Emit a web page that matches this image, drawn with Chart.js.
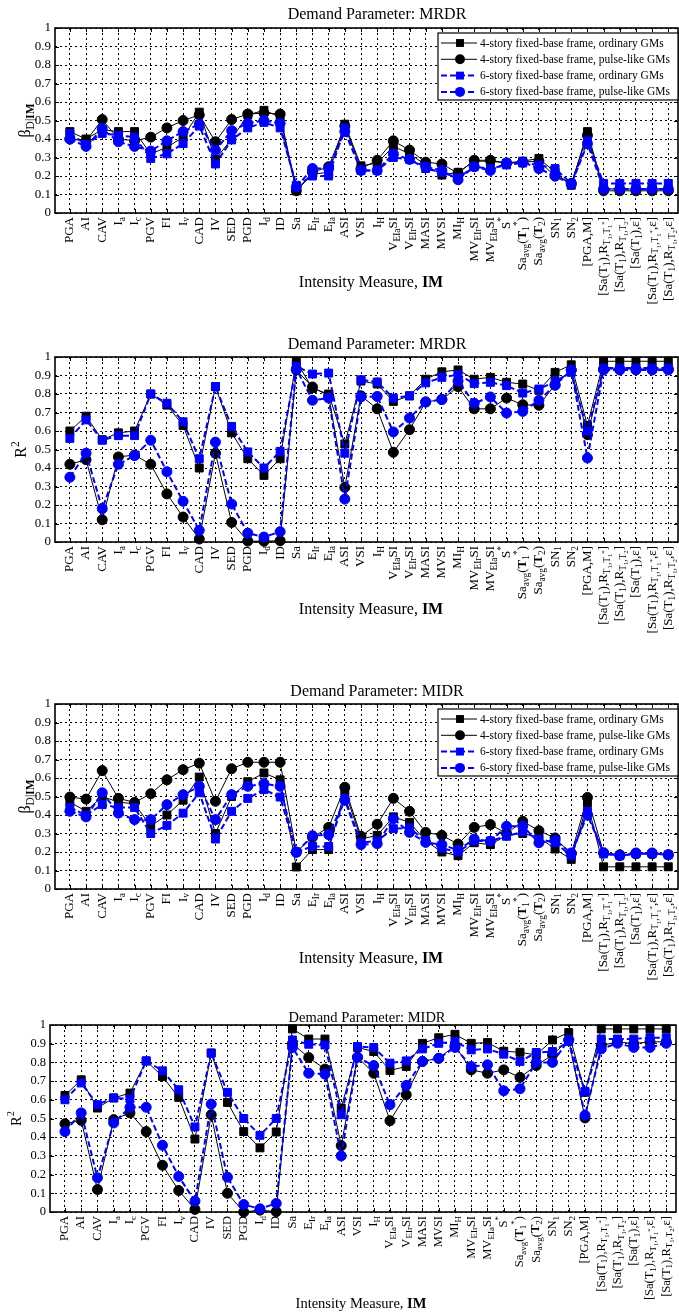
<!DOCTYPE html>
<html lang="en">
<head>
<meta charset="UTF-8">
<title>Dispersion and R2 of intensity measures</title>
<script src="https://cdn.jsdelivr.net/npm/chart.js"></script>
<style>
  body { margin: 0; background: #fff; }
  #wrap { position: relative; width: 679px; height: 1314px; background: #fff; overflow: hidden; }
  canvas { position: absolute; left: 0; }
</style>
</head>
<body>
<div id="wrap">
  <canvas id="c1"></canvas>
  <canvas id="c2"></canvas>
  <canvas id="c3"></canvas>
  <canvas id="c4"></canvas>
</div>
<script>
// categories (intensity measures), _{} = subscript, ^{} = superscript, #{} = bold
const categories = ['PGA', 'AI', 'CAV', 'I_{a}', 'I_{c}', 'PGV', 'FI', 'I_{v}', 'CAD', 'IV', 'SED', 'PGD', 'I_{d}', 'ID', 'Sa',
  'E_{Ir}', 'E_{Ia}', 'ASI', 'VSI', 'I_{H}', 'V_{EIa}SI', 'V_{EIr}SI', 'MASI', 'MVSI', 'MI_{H}', 'MV_{EIr}SI', 'MV_{EIa}SI',
  'S^{*}', 'Sa_{avg}(#{T}_{1}^{*})', 'Sa_{avg}(#{T}_{2})', 'SN_{1}', 'SN_{2}', '[PGA,M]',
  '[Sa(T_{1}),R_{T_{1},T_{1}^{*}}]', '[Sa(T_{1}),R_{T_{1},T_{2}}]', '[Sa(T_{1}),ε]',
  '[Sa(T_{1}),R_{T_{1},T_{1}^{*}},ε]', '[Sa(T_{1}),R_{T_{1},T_{2}},ε]'];

const seriesLabels = ['4-story fixed-base frame, ordinary GMs', '4-story fixed-base frame, pulse-like GMs',
  '6-story fixed-base frame, ordinary GMs', '6-story fixed-base frame, pulse-like GMs'];

const yTicks = [0, 0.1, 0.2, 0.3, 0.4, 0.5, 0.6, 0.7, 0.8, 0.9, 1];

// Demand parameter MRDR, dispersion beta_D|IM
const betaMRDR_4ord = [0.44, 0.40, 0.45, 0.44, 0.44, 0.32, 0.355, 0.41, 0.545, 0.29, 0.40, 0.53, 0.555, 0.52, 0.12, 0.21, 0.22, 0.48, 0.255, 0.27, 0.36, 0.32, 0.26, 0.205, 0.22, 0.28, 0.28, 0.27, 0.28, 0.295, 0.22, 0.15, 0.44, 0.13, 0.13, 0.13, 0.13, 0.13];
const betaMRDR_4pulse = [0.40, 0.39, 0.505, 0.40, 0.39, 0.41, 0.46, 0.50, 0.53, 0.385, 0.505, 0.535, 0.54, 0.535, 0.12, 0.22, 0.25, 0.47, 0.24, 0.285, 0.39, 0.34, 0.275, 0.265, 0.215, 0.285, 0.285, 0.27, 0.275, 0.28, 0.20, 0.16, 0.42, 0.12, 0.12, 0.12, 0.12, 0.12];
const betaMRDR_6ord = [0.43, 0.37, 0.43, 0.42, 0.41, 0.295, 0.32, 0.375, 0.47, 0.265, 0.395, 0.46, 0.49, 0.46, 0.15, 0.20, 0.20, 0.46, 0.23, 0.23, 0.30, 0.29, 0.24, 0.22, 0.19, 0.25, 0.24, 0.26, 0.27, 0.26, 0.24, 0.16, 0.39, 0.16, 0.16, 0.16, 0.16, 0.16];
const betaMRDR_6pulse = [0.40, 0.36, 0.455, 0.385, 0.36, 0.335, 0.39, 0.44, 0.48, 0.34, 0.445, 0.485, 0.50, 0.485, 0.14, 0.24, 0.24, 0.44, 0.23, 0.23, 0.32, 0.29, 0.25, 0.23, 0.18, 0.25, 0.23, 0.27, 0.275, 0.24, 0.20, 0.155, 0.375, 0.13, 0.13, 0.13, 0.13, 0.13];

// Demand parameter MRDR, R^2
const r2MRDR_4ord = [0.60, 0.68, 0.553, 0.59, 0.60, 0.80, 0.74, 0.63, 0.40, 0.84, 0.59, 0.45, 0.36, 0.45, 0.977, 0.83, 0.80, 0.53, 0.87, 0.854, 0.76, 0.79, 0.88, 0.92, 0.93, 0.88, 0.89, 0.863, 0.854, 0.82, 0.917, 0.958, 0.63, 0.977, 0.977, 0.977, 0.977, 0.977];
const r2MRDR_4pulse = [0.42, 0.445, 0.12, 0.46, 0.47, 0.42, 0.26, 0.135, 0.016, 0.48, 0.106, 0.005, 0.004, 0.007, 0.93, 0.838, 0.79, 0.295, 0.79, 0.72, 0.485, 0.607, 0.757, 0.77, 0.84, 0.72, 0.72, 0.778, 0.742, 0.739, 0.85, 0.93, 0.58, 0.935, 0.935, 0.935, 0.935, 0.935];
const r2MRDR_6ord = [0.56, 0.66, 0.55, 0.575, 0.575, 0.80, 0.75, 0.65, 0.45, 0.84, 0.625, 0.487, 0.40, 0.49, 0.95, 0.908, 0.913, 0.48, 0.877, 0.865, 0.778, 0.79, 0.86, 0.89, 0.905, 0.856, 0.863, 0.845, 0.805, 0.827, 0.868, 0.917, 0.60, 0.94, 0.94, 0.94, 0.94, 0.94];
const r2MRDR_6pulse = [0.35, 0.48, 0.18, 0.42, 0.467, 0.55, 0.38, 0.22, 0.063, 0.54, 0.205, 0.048, 0.027, 0.056, 0.935, 0.766, 0.778, 0.232, 0.784, 0.787, 0.595, 0.67, 0.757, 0.77, 0.87, 0.75, 0.784, 0.697, 0.706, 0.766, 0.847, 0.93, 0.454, 0.93, 0.93, 0.93, 0.93, 0.93];

// Demand parameter MIDR, dispersion beta_D|IM
const betaMIDR_4ord = [0.47, 0.42, 0.50, 0.47, 0.46, 0.34, 0.40, 0.48, 0.605, 0.30, 0.50, 0.58, 0.627, 0.59, 0.119, 0.213, 0.213, 0.53, 0.27, 0.29, 0.39, 0.36, 0.26, 0.20, 0.18, 0.25, 0.24, 0.29, 0.30, 0.28, 0.216, 0.16, 0.465, 0.12, 0.12, 0.12, 0.12, 0.12];
const betaMIDR_4pulse = [0.497, 0.486, 0.64, 0.49, 0.468, 0.515, 0.59, 0.645, 0.68, 0.474, 0.65, 0.685, 0.685, 0.685, 0.20, 0.28, 0.333, 0.55, 0.285, 0.35, 0.49, 0.42, 0.306, 0.29, 0.243, 0.333, 0.348, 0.30, 0.366, 0.315, 0.276, 0.19, 0.495, 0.195, 0.185, 0.19, 0.19, 0.185];
const betaMIDR_6ord = [0.44, 0.40, 0.456, 0.44, 0.44, 0.30, 0.344, 0.41, 0.52, 0.27, 0.42, 0.49, 0.537, 0.497, 0.20, 0.23, 0.23, 0.49, 0.25, 0.26, 0.326, 0.33, 0.26, 0.22, 0.20, 0.26, 0.26, 0.285, 0.31, 0.27, 0.25, 0.18, 0.42, 0.19, 0.18, 0.19, 0.19, 0.185];
const betaMIDR_6pulse = [0.42, 0.39, 0.52, 0.41, 0.375, 0.375, 0.456, 0.51, 0.555, 0.375, 0.51, 0.555, 0.57, 0.555, 0.198, 0.288, 0.294, 0.48, 0.24, 0.245, 0.38, 0.306, 0.252, 0.24, 0.21, 0.27, 0.258, 0.339, 0.34, 0.25, 0.263, 0.195, 0.40, 0.195, 0.18, 0.195, 0.195, 0.185];

// Demand parameter MIDR, R^2
const r2MIDR_4ord = [0.623, 0.707, 0.556, 0.61, 0.636, 0.808, 0.725, 0.613, 0.39, 0.85, 0.586, 0.43, 0.343, 0.428, 0.979, 0.925, 0.925, 0.556, 0.88, 0.858, 0.757, 0.778, 0.902, 0.932, 0.95, 0.902, 0.906, 0.86, 0.854, 0.84, 0.92, 0.96, 0.64, 0.979, 0.979, 0.979, 0.979, 0.979];
const r2MIDR_4pulse = [0.472, 0.49, 0.12, 0.494, 0.53, 0.43, 0.25, 0.115, 0.014, 0.52, 0.10, 0.0, 0.01, 0.002, 0.90, 0.826, 0.764, 0.355, 0.828, 0.742, 0.488, 0.627, 0.805, 0.822, 0.89, 0.76, 0.742, 0.76, 0.72, 0.783, 0.84, 0.92, 0.503, 0.89, 0.91, 0.90, 0.91, 0.91];
const r2MIDR_6ord = [0.60, 0.69, 0.574, 0.61, 0.605, 0.808, 0.755, 0.654, 0.455, 0.85, 0.64, 0.50, 0.41, 0.50, 0.92, 0.897, 0.893, 0.52, 0.885, 0.88, 0.796, 0.808, 0.872, 0.902, 0.911, 0.867, 0.872, 0.844, 0.805, 0.853, 0.858, 0.911, 0.645, 0.925, 0.925, 0.925, 0.932, 0.932];
const r2MIDR_6pulse = [0.43, 0.53, 0.183, 0.476, 0.56, 0.56, 0.357, 0.19, 0.058, 0.577, 0.186, 0.04, 0.017, 0.046, 0.88, 0.742, 0.737, 0.30, 0.828, 0.783, 0.574, 0.677, 0.805, 0.822, 0.88, 0.778, 0.787, 0.648, 0.659, 0.80, 0.80, 0.92, 0.517, 0.872, 0.902, 0.88, 0.88, 0.902];

const SERIF = '"Liberation Serif", "Times New Roman", serif';
const styles = [
  { color: '#000000', dash: [], width: 1, point: 'rect', r: 5.6 },
  { color: '#000000', dash: [], width: 1, point: 'circle', r: 5 },
  { color: '#0000ff', dash: [6, 3], width: 2, point: 'rect', r: 5.6 },
  { color: '#0000ff', dash: [6, 3], width: 2, point: 'circle', r: 5 }
];

// simple rich text: _{..} sub, ^{..} sup, #{..} bold (nestable)
function parseRich(s) {
  const out = [], mode = [];
  let buf = '';
  const flush = () => { if (buf) { out.push({ t: buf, mode: mode.slice() }); buf = ''; } };
  for (let i = 0; i < s.length; i++) {
    const c = s[i];
    if ((c === '_' || c === '^' || c === '#') && s[i + 1] === '{') { flush(); mode.push(c); i++; }
    else if (c === '}' && mode.length) { flush(); mode.pop(); }
    else buf += c;
  }
  flush();
  return out;
}

function drawRich(ctx, s, x, y, size, align) {
  let total = 0;
  const items = parseRich(s).map(sg => {
    let sz = size, dy = 0;
    sg.mode.forEach(m => {
      if (m === '_') { dy += sz * 0.3; sz *= 0.72; }
      if (m === '^') { dy -= sz * 0.4; sz *= 0.72; }
    });
    const font = (sg.mode.includes('#') ? 'bold ' : '') + sz.toFixed(1) + 'px ' + SERIF;
    ctx.font = font;
    const w = ctx.measureText(sg.t).width;
    total += w;
    return { t: sg.t, font: font, dy: dy, w: w };
  });
  let cx = align === 'right' ? x - total : align === 'center' ? x - total / 2 : x;
  ctx.textAlign = 'left';
  items.forEach(it => { ctx.font = it.font; ctx.fillText(it.t, cx, y + it.dy); cx += it.w; });
}

const panels = [
  { id: 'c1', top: 0, height: 320, plotTop: 28, plotBottom: 213, left: 55, right: 678,
    title: 'Demand Parameter: MRDR', titleX: 377, titleY: 19, titleSize: 16,
    yTitle: 'β_{D|#{IM}}', yTitleX: 26, xTitleY: 287, legend: true, tickSize: 13,
    series: [betaMRDR_4ord, betaMRDR_4pulse, betaMRDR_6ord, betaMRDR_6pulse] },
  { id: 'c2', top: 330, height: 320, plotTop: 357, plotBottom: 542, left: 55, right: 678,
    title: 'Demand Parameter: MRDR', titleX: 377, titleY: 349, titleSize: 16,
    yTitle: 'R^{2}', yTitleX: 22, xTitleY: 614, legend: false, tickSize: 13,
    series: [r2MRDR_4ord, r2MRDR_4pulse, r2MRDR_6ord, r2MRDR_6pulse] },
  { id: 'c3', top: 670, height: 330, plotTop: 704, plotBottom: 889, left: 55, right: 678,
    title: 'Demand Parameter: MIDR', titleX: 377, titleY: 696, titleSize: 16,
    yTitle: 'β_{D|#{IM}}', yTitleX: 26, xTitleY: 963, legend: true, tickSize: 13,
    series: [betaMIDR_4ord, betaMIDR_4pulse, betaMIDR_6ord, betaMIDR_6pulse] },
  { id: 'c4', top: 1000, height: 314, plotTop: 1025, plotBottom: 1212, left: 50, right: 676,
    title: 'Demand Parameter: MIDR', titleX: 367, titleY: 1022, titleSize: 14.5,
    yTitle: 'R^{2}', yTitleX: 17, xTitleY: 1308, legend: false, tickSize: 12.5,
    series: [r2MIDR_4ord, r2MIDR_4pulse, r2MIDR_6ord, r2MIDR_6pulse] }
];

function makePanel(p) {
  const canvas = document.getElementById(p.id);
  canvas.width = 679;
  canvas.height = p.height;
  canvas.style.top = p.top + 'px';
  const off = p.top;

  const framePlugin = {
    id: 'frame',
    beforeDatasetsDraw(chart) {
      const ctx = chart.ctx, a = chart.chartArea, xs = chart.scales.x, ys = chart.scales.y;
      ctx.save();
      ctx.strokeStyle = '#000';
      ctx.lineWidth = 1;
      ctx.setLineDash([]);
      ctx.beginPath();
      categories.forEach((c, i) => {
        const px = Math.round(xs.getPixelForValue(i + 1)) + 0.5;
        ctx.moveTo(px, a.bottom); ctx.lineTo(px, a.bottom - 4);
        ctx.moveTo(px, a.top); ctx.lineTo(px, a.top + 4);
      });
      yTicks.forEach(v => {
        const py = Math.round(ys.getPixelForValue(v)) + 0.5;
        ctx.moveTo(a.left, py); ctx.lineTo(a.left + 4, py);
        ctx.moveTo(a.right, py); ctx.lineTo(a.right - 4, py);
      });
      ctx.stroke();
      ctx.lineWidth = 1.6;
      ctx.strokeRect(a.left, a.top, a.right - a.left, a.bottom - a.top);
      ctx.restore();
    },
    afterDraw(chart) {
      const ctx = chart.ctx, a = chart.chartArea, xs = chart.scales.x;
      ctx.save();
      ctx.fillStyle = '#000';

      // title
      ctx.textBaseline = 'alphabetic';
      drawRich(ctx, p.title, p.titleX, p.titleY - off, p.titleSize, 'center');

      // rotated category labels
      ctx.textBaseline = 'middle';
      categories.forEach((c, i) => {
        const px = xs.getPixelForValue(i + 1);
        ctx.save();
        ctx.translate(px, a.bottom + 4);
        ctx.rotate(-Math.PI / 2);
        drawRich(ctx, c, 0, 0, p.tickSize, 'right');
        ctx.restore();
      });

      // axis titles
      ctx.textBaseline = 'alphabetic';
      drawRich(ctx, 'Intensity Measure, #{IM}', p.titleX - 6, p.xTitleY - off, p.titleSize, 'center');
      ctx.save();
      ctx.translate(p.yTitleX, (a.top + a.bottom) / 2);
      ctx.rotate(-Math.PI / 2);
      ctx.textBaseline = 'middle';
      drawRich(ctx, p.yTitle, 0, 0, p.titleSize, 'center');
      ctx.restore();

      // legend box
      if (p.legend) {
        const bx = 438, by = a.top + 5, bw = a.right - bx, bh = 67;
        ctx.fillStyle = '#fff';
        ctx.fillRect(bx, by, bw, bh);
        ctx.strokeStyle = '#000';
        ctx.lineWidth = 1.2;
        ctx.setLineDash([]);
        ctx.strokeRect(bx, by, bw, bh);
        chart.data.datasets.forEach((ds, k) => {
          const st = styles[k];
          const ry = by + 10 + k * 16.3;
          ctx.strokeStyle = st.color;
          ctx.lineWidth = st.width;
          ctx.setLineDash(st.dash);
          ctx.beginPath(); ctx.moveTo(441, ry); ctx.lineTo(477, ry); ctx.stroke();
          ctx.setLineDash([]);
          ctx.fillStyle = st.color;
          ctx.beginPath();
          if (st.point === 'rect') {
            const h = st.r * Math.SQRT1_2;
            ctx.rect(460 - h, ry - h, 2 * h, 2 * h);
          } else {
            ctx.arc(460, ry, st.r, 0, Math.PI * 2);
          }
          ctx.fill();
          ctx.fillStyle = '#000';
          ctx.font = '11.5px ' + SERIF;
          ctx.textAlign = 'left';
          ctx.textBaseline = 'middle';
          ctx.fillText(ds.label, 480, ry + 0.5);
        });
      }
      ctx.restore();
    }
  };

  const datasets = p.series.map((vals, k) => ({
    label: seriesLabels[k],
    data: vals.map((v, i) => ({ x: i + 1, y: v })),
    borderColor: styles[k].color,
    backgroundColor: styles[k].color,
    borderWidth: styles[k].width,
    borderDash: styles[k].dash,
    pointStyle: styles[k].point,
    pointRadius: styles[k].r,
    pointBorderWidth: 1,
    pointBackgroundColor: styles[k].color,
    pointBorderColor: styles[k].color,
    tension: 0,
    fill: false,
    clip: 12,
    order: 4 - k
  }));

  new Chart(canvas.getContext('2d'), {
    type: 'line',
    data: { datasets: datasets },
    options: {
      responsive: false,
      animation: false,
      events: [],
      layout: {
        autoPadding: false,
        padding: { top: p.plotTop - off, left: 0, right: 679 - p.right, bottom: 0 }
      },
      plugins: { legend: { display: false }, tooltip: { enabled: false } },
      scales: {
        x: {
          type: 'linear',
          min: 0.08,
          max: 38.6,
          afterFit: s => { s.height = p.height - (p.plotBottom - off); },
          afterBuildTicks: axis => { axis.ticks = categories.map((c, i) => ({ value: i + 1 })); },
          ticks: { display: false },
          grid: { color: '#000', lineWidth: 1, drawTicks: false },
          border: { display: false, dash: [2, 3] }
        },
        y: {
          min: 0,
          max: 1,
          afterFit: s => { s.width = p.left; },
          afterBuildTicks: axis => { axis.ticks = yTicks.map(v => ({ value: v })); },
          ticks: {
            color: '#000',
            padding: 4,
            autoSkip: false,
            font: { family: SERIF, size: p.tickSize },
            callback: v => String(Math.round(v * 10) / 10)
          },
          grid: { color: '#000', lineWidth: 1, drawTicks: false },
          border: { display: false, dash: [2, 3] }
        }
      }
    },
    plugins: [framePlugin]
  });
}

panels.forEach(makePanel);
</script>
</body>
</html>
